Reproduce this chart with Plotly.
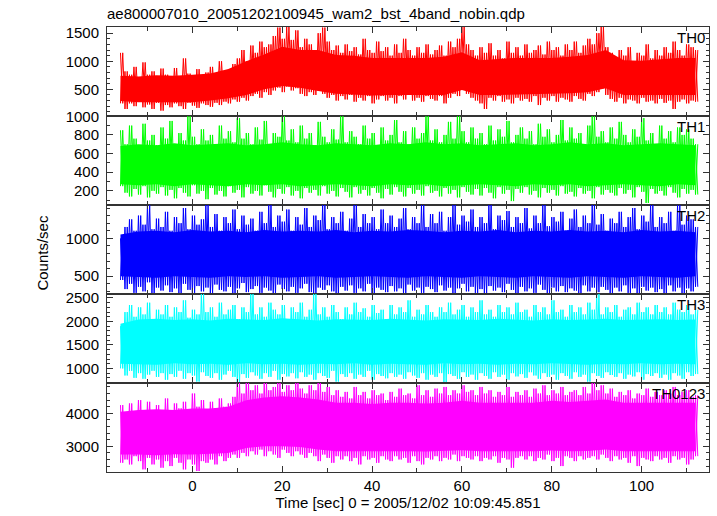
import plotly.graph_objects as go
from plotly.subplots import make_subplots

# time grid of the spike envelopes (1 s) and of the dense core (4 s)
TIME_SEC = list(range(-16, 113))
CORE_TIME = list(range(-16, 113, 4))

TH0_HI = [1150, 820, 760, 900, 700, 980, 760, 820, 690, 870,
          760, 700, 880, 740, 1050, 780, 700, 860, 720, 800,
          900, 740, 1000, 780, 820, 950, 1050, 1200, 1000, 1280,
          1150, 1350, 1250, 1300, 1450, 1600, 1400, 1620, 1380, 1550,
          1250, 1400, 1300, 1200, 1500, 1600, 1350, 1200, 1280, 1150,
          1300, 1180, 1250, 1120, 1400, 1200, 1150, 1350, 1180, 1250,
          1100, 1300, 1150, 1400, 1200, 1100, 1250, 1150, 1300, 1120,
          1200, 1280, 1100, 1350, 1250, 1400, 1620, 1300, 1200, 1100,
          1250, 1150, 1320, 1100, 1200, 1050, 1350, 1150, 1250, 1100,
          1300, 1150, 1200, 1280, 1120, 1350, 1200, 1250, 1100, 1300,
          1200, 1350, 1150, 1280, 1400, 1300, 1500, 1620, 1250, 1150,
          1050, 1200, 1100, 1250, 1000, 1150, 1100, 1300, 1050, 1200,
          1100, 1250, 1150, 1350, 1200, 1100, 1300, 1250, 1200]
TH0_LO = [250, 150, 250, 200, 280, 180, 230, 150, 260, 120,
          220, 180, 250, 200, 150, 260, 210, 170, 250, 220,
          190, 260, 220, 280, 250, 320, 280, 350, 300, 380,
          420, 350, 450, 400, 480, 530, 450, 550, 480, 520,
          420, 380, 450, 400, 480, 420, 350, 400, 300, 380,
          320, 400, 280, 350, 300, 380, 250, 320, 380, 300,
          350, 250, 380, 320, 400, 300, 350, 280, 380, 330,
          300, 380, 250, 350, 420, 380, 500, 420, 350, 300,
          250, 150, 350, 300, 380, 280, 320, 250, 350, 300,
          330, 280, 380, 220, 350, 300, 380, 280, 350, 320,
          280, 380, 330, 300, 420, 380, 450, 520, 400, 330,
          280, 350, 250, 320, 300, 250, 350, 280, 300, 250,
          330, 260, 300, 150, 280, 320, 250, 300, 280]
TH0_CORE_HI = [740, 730, 750, 740, 760, 780, 860, 1000, 1120, 1260, 1200,
               1200, 1110, 1100, 1060, 1060, 1060, 1060, 1080, 1160, 1020,
               1040, 1060, 1060, 1060, 1080, 1110, 1200, 1020, 1010, 1040, 1060, 1060]
TH0_CORE_LO = [290, 270, 270, 270, 270, 300, 340, 400, 500, 560, 530,
               470, 420, 400, 390, 400, 410, 400, 400, 490, 400,
               400, 410, 420, 420, 430, 450, 520, 400, 390, 400, 400, 400]

TH1_HI = [850, 700, 900, 760, 680, 920, 740, 800, 690, 880,
          760, 950, 700, 820, 740, 1000, 780, 700, 860, 740,
          800, 690, 900, 760, 840, 720, 980, 760, 820, 700,
          880, 750, 950, 700, 820, 780, 1000, 740, 860, 720,
          900, 760, 820, 690, 940, 780, 720, 860, 750, 1000,
          720, 840, 780, 700, 900, 760, 820, 680, 880, 740,
          800, 960, 720, 840, 700, 880, 760, 820, 1000, 740,
          860, 720, 800, 940, 760, 1000, 840, 720, 880, 760,
          820, 700, 900, 740, 860, 780, 950, 720, 800, 880,
          760, 840, 700, 920, 780, 860, 720, 800, 960, 740,
          880, 760, 820, 700, 900, 1000, 780, 840, 720, 880,
          760, 940, 800, 720, 860, 780, 980, 740, 820, 700,
          900, 760, 840, 720, 880, 800, 860, 760, 700]
TH1_LO = [250, 180, 140, 220, 160, 250, 130, 200, 170, 240,
          150, 210, 120, 230, 180, 140, 260, 170, 200, 110,
          230, 160, 200, 140, 250, 180, 210, 130, 240, 170,
          200, 150, 260, 190, 130, 220, 170, 240, 150, 200,
          120, 230, 180, 210, 150, 250, 170, 200, 140, 230,
          190, 130, 240, 170, 210, 150, 230, 180, 120, 220,
          160, 240, 190, 140, 230, 170, 210, 150, 250, 180,
          200, 140, 230, 170, 210, 130, 240, 190, 160, 220,
          150, 230, 180, 120, 240, 170, 210, 90, 220, 180,
          240, 160, 200, 130, 230, 180, 210, 150, 250, 170,
          190, 140, 230, 170, 200, 120, 240, 160, 210, 180,
          150, 230, 170, 210, 130, 240, 190, 70, 220, 170,
          200, 150, 240, 180, 130, 220, 170, 210, 160]
TH1_CORE_HI = [680, 700, 690, 710, 690, 700, 710, 690, 700, 720, 700,
               690, 710, 700, 690, 710, 700, 720, 700, 710, 690,
               700, 710, 690, 700, 720, 700, 710, 690, 700, 710, 700, 690]
TH1_CORE_LO = [270, 260, 270, 250, 270, 260, 250, 270, 260, 270, 250,
               260, 270, 260, 250, 270, 260, 270, 250, 260, 270,
               260, 250, 270, 260, 270, 250, 260, 270, 260, 250, 270, 260]

TH2_HI = [1000, 1150, 1250, 1100, 1300, 1180, 1440, 1120, 1260, 1150,
          1350, 1100, 1280, 1200, 1400, 1120, 1300, 1180, 1250, 1440,
          1150, 1320, 1100, 1280, 1200, 1380, 1120, 1300, 1180, 1260,
          1100, 1350, 1200, 1440, 1150, 1300, 1220, 1380, 1100, 1280,
          1180, 1400, 1150, 1300, 1240, 1440, 1120, 1280, 1200, 1350,
          1100, 1260, 1440, 1150, 1320, 1200, 1280, 1120, 1380, 1200,
          1300, 1150, 1260, 1400, 1120, 1280, 1200, 1440, 1150, 1320,
          1200, 1350, 1100, 1280, 1440, 1180, 1300, 1220, 1380, 1150,
          1280, 1200, 1440, 1120, 1300, 1240, 1360, 1150, 1280, 1200,
          1400, 1130, 1300, 1200, 1440, 1160, 1280, 1220, 1350, 1100,
          1260, 1380, 1150, 1300, 1200, 1440, 1180, 1320, 1100, 1260,
          1200, 1350, 1150, 1280, 1400, 1120, 1300, 1220, 1440, 1150,
          1280, 1200, 1350, 1100, 1440, 1180, 1300, 1250, 1150]
TH2_LO = [450, 330, 400, 280, 360, 300, 420, 265, 350, 310,
          380, 290, 340, 265, 400, 320, 280, 370, 300, 350,
          270, 390, 320, 300, 360, 265, 340, 410, 290, 330,
          370, 280, 350, 310, 265, 390, 330, 300, 360, 280,
          340, 400, 290, 265, 350, 320, 380, 300, 265, 360,
          310, 380, 280, 340, 300, 400, 265, 350, 320, 290,
          370, 300, 340, 265, 390, 310, 350, 280, 360, 330,
          290, 380, 310, 350, 265, 340, 400, 300, 360, 280,
          330, 265, 370, 310, 350, 290, 400, 320, 265, 360,
          300, 340, 280, 390, 320, 265, 350, 300, 370, 290,
          340, 310, 265, 380, 300, 350, 290, 360, 320, 265,
          350, 300, 380, 280, 340, 265, 360, 310, 350, 290,
          330, 270, 380, 300, 350, 265, 340, 300, 360]
TH2_CORE_HI = [1050, 1090, 1100, 1080, 1110, 1090, 1100, 1080, 1110, 1090, 1100,
               1090, 1110, 1080, 1100, 1090, 1110, 1100, 1080, 1100, 1090,
               1110, 1080, 1100, 1090, 1110, 1090, 1100, 1080, 1110, 1090, 1100, 1080]
TH2_CORE_LO = [500, 490, 480, 500, 490, 480, 500, 490, 500, 480, 490,
               500, 480, 490, 500, 490, 480, 500, 490, 480, 500,
               490, 480, 500, 490, 480, 500, 490, 480, 500, 490, 480, 500]

TH3_HI = [1900, 2200, 2350, 2100, 2300, 2150, 2400, 2050, 2250, 2150,
          2350, 2100, 2300, 2200, 2450, 2080, 2250, 2150, 2585, 2200,
          2300, 2100, 2400, 2150, 2250, 2350, 2050, 2300, 2200, 2585,
          2150, 2300, 2100, 2400, 2250, 2150, 2350, 2050, 2300, 2200,
          2400, 2100, 2250, 2585, 2150, 2300, 2100, 2350, 2200, 2050,
          2300, 2150, 2400, 2200, 2280, 2100, 2350, 2180, 2250, 2050,
          2350, 2150, 2300, 2200, 2450, 2100, 2250, 2150, 2350, 2200,
          2100, 2300, 2200, 2400, 2150, 2250, 2350, 2100, 2300, 2200,
          2450, 2150, 2250, 2100, 2350, 2200, 2300, 2150, 2400, 2200,
          2250, 2100, 2350, 2200, 2300, 2150, 2450, 2200, 2250, 2100,
          2350, 2200, 2300, 2150, 2400, 2250, 2585, 2150, 2300, 2200,
          2350, 2100, 2250, 2300, 2150, 2400, 2200, 2300, 2150, 2350,
          2200, 2300, 2150, 2400, 2250, 2200, 2350, 2150, 2250]
TH3_LO = [1000, 850, 950, 800, 900, 780, 870, 950, 820, 900,
          760, 880, 820, 950, 780, 900, 850, 720, 920, 840,
          800, 900, 760, 870, 950, 820, 700, 880, 800, 920,
          850, 780, 900, 820, 950, 760, 880, 830, 900, 790,
          920, 820, 870, 760, 900, 840, 800, 950, 720, 880,
          820, 900, 780, 870, 820, 950, 760, 880, 840, 790,
          900, 820, 870, 780, 920, 850, 800, 900, 760, 870,
          820, 900, 700, 880, 840, 780, 920, 820, 870, 760,
          900, 840, 780, 920, 820, 870, 760, 900, 830, 880,
          800, 920, 850, 780, 900, 820, 870, 760, 900, 840,
          780, 920, 820, 870, 720, 900, 840, 800, 920, 860,
          820, 900, 780, 870, 830, 920, 760, 880, 840, 900,
          800, 870, 760, 900, 850, 780, 920, 840, 880]
TH3_CORE_HI = [1950, 2040, 2060, 2030, 2050, 2020, 2060, 2040, 2030, 2070, 2040,
               2020, 2050, 2040, 2030, 2060, 2040, 2020, 2050, 2040, 2030,
               2060, 2040, 2020, 2050, 2030, 2040, 2060, 2030, 2040, 2050, 2030, 2040]
TH3_CORE_LO = [1100, 1090, 1080, 1110, 1090, 1100, 1080, 1110, 1090, 1100, 1080,
               1100, 1090, 1110, 1080, 1100, 1090, 1080, 1110, 1090, 1100,
               1080, 1100, 1090, 1110, 1090, 1080, 1100, 1090, 1110, 1090, 1100, 1090]

TH0123_HI = [4250, 3900, 4300, 4050, 4400, 4100, 4350, 3950, 4250, 4100,
             4450, 4000, 4300, 4150, 4350, 4050, 4600, 4200, 4400, 4100,
             4350, 4150, 4450, 4200, 4300, 4500, 4920, 4600, 4920, 4700,
             4850, 4600, 4920, 4700, 4800, 4920, 4650, 4850, 4700, 4920,
             4750, 4600, 4850, 4700, 4920, 4650, 4800, 4550, 4700, 4500,
             4650, 4450, 4800, 4550, 4650, 4450, 4700, 4550, 4600, 4400,
             4650, 4500, 4750, 4550, 4600, 4450, 4850, 4550, 4700, 4500,
             4750, 4600, 4800, 4550, 4700, 4600, 4850, 4650, 4700, 4550,
             4800, 4600, 4700, 4500, 4650, 4550, 4800, 4500, 4650, 4550,
             4700, 4500, 4750, 4600, 4850, 4550, 4700, 4600, 4800, 4550,
             4650, 4700, 4550, 4800, 4600, 4920, 4700, 4850, 4600, 4750,
             4500, 4650, 4550, 4700, 4450, 4600, 4550, 4750, 4500, 4650,
             4550, 4700, 4600, 4800, 4550, 4650, 4700, 4500, 4550]
TH0123_LO = [2500, 2600, 2450, 2700, 2550, 2300, 2650, 2450, 2600, 2350,
             2550, 2400, 2650, 2500, 2300, 2600, 2450, 2250, 2550, 2500,
             2600, 2450, 2700, 2550, 2650, 2750, 2650, 2800, 2700, 2850,
             2750, 2900, 2700, 2850, 2750, 2650, 2900, 2800, 2700, 2850,
             2750, 2650, 2800, 2700, 2550, 2750, 2650, 2500, 2700, 2600,
             2700, 2550, 2650, 2450, 2700, 2600, 2650, 2500, 2700, 2600,
             2550, 2700, 2600, 2650, 2500, 2700, 2550, 2450, 2650, 2600,
             2700, 2550, 2650, 2600, 2750, 2550, 2700, 2650, 2600, 2700,
             2550, 2650, 2600, 2700, 2500, 2650, 2600, 2350, 2650, 2700,
             2600, 2700, 2550, 2650, 2600, 2750, 2550, 2650, 2400, 2700,
             2650, 2550, 2700, 2600, 2650, 2700, 2600, 2750, 2650, 2550,
             2700, 2600, 2650, 2500, 2700, 2400, 2650, 2600, 2550, 2700,
             2600, 2650, 2500, 2700, 2600, 2650, 2450, 2600, 2700]
TH0123_CORE_HI = [4050, 4100, 4120, 4100, 4150, 4150, 4200, 4400, 4480, 4520, 4480,
                  4420, 4320, 4320, 4280, 4320, 4320, 4300, 4320, 4380, 4320,
                  4320, 4340, 4320, 4380, 4340, 4380, 4420, 4320, 4320, 4340, 4320, 4320]
TH0123_CORE_LO = [2750, 2750, 2730, 2760, 2750, 2770, 2800, 2950, 3000, 3000, 2980,
                  2900, 2850, 2850, 2830, 2850, 2850, 2840, 2850, 2880, 2850,
                  2840, 2850, 2850, 2870, 2850, 2860, 2900, 2850, 2840, 2850, 2850, 2850]

BANDS = ["TH0", "TH1", "TH2", "TH3", "TH0123"]
COLORS = ["#ff0000", "#00ff00", "#0000ff", "#00ffff", "#ff00ff"]
Y_RANGES = [[25, 1610], [48, 1003], [265, 1440], [690, 2585], [2220, 4920]]
Y_DTICK = [500, 200, 500, 500, 1000]
Y_MINOR = [100, 100, 100, 100, 200]
X_RANGE = [-19, 115]

SERIES = [(TH0_HI, TH0_LO, TH0_CORE_HI, TH0_CORE_LO),
          (TH1_HI, TH1_LO, TH1_CORE_HI, TH1_CORE_LO),
          (TH2_HI, TH2_LO, TH2_CORE_HI, TH2_CORE_LO),
          (TH3_HI, TH3_LO, TH3_CORE_HI, TH3_CORE_LO),
          (TH0123_HI, TH0123_LO, TH0123_CORE_HI, TH0123_CORE_LO)]

FONT = "Liberation Sans, Arial, Helvetica, sans-serif"

fig = make_subplots(rows=5, cols=1, shared_xaxes=True, vertical_spacing=0)

for i, (hi, lo, chi, clo) in enumerate(SERIES):
    # dense core of the light curve
    cx = list(CORE_TIME) + list(reversed(CORE_TIME))
    cy = list(chi) + list(reversed(clo))
    fig.add_trace(go.Scatter(x=cx, y=cy, mode="lines", fill="toself",
                             fillcolor=COLORS[i],
                             line=dict(color=COLORS[i], width=0),
                             showlegend=False, hoverinfo="skip"),
                  row=i + 1, col=1)
    # spikes: bin-to-bin swings between the extreme values
    xs, ys = [], []
    for t, h, l in zip(TIME_SEC, hi, lo):
        xs += [t, t + 0.5]
        ys += [h, l]
    xs.append(None); ys.append(None)
    for t, h, l in zip(TIME_SEC, hi, lo):
        xs += [t, t + 0.5]
        ys += [l, h]
    fig.add_trace(go.Scatter(x=xs, y=ys, mode="lines",
                             line=dict(color=COLORS[i], width=1),
                             showlegend=False, hoverinfo="skip"),
                  row=i + 1, col=1)

for i in range(5):
    fig.update_yaxes(range=Y_RANGES[i], dtick=Y_DTICK[i], tick0=0,
                     ticks="inside", ticklen=6, tickcolor="#333",
                     minor=dict(dtick=Y_MINOR[i], tick0=0, ticks="inside",
                                ticklen=3, tickcolor="#333"),
                     showline=True, linecolor="#333", linewidth=1,
                     mirror="allticks", showgrid=False, zeroline=False,
                     tickfont=dict(family=FONT, size=15, color="black"),
                     ticklabelstandoff=4,
                     row=i + 1, col=1)
    fig.update_xaxes(range=X_RANGE, dtick=20, tick0=0,
                     ticks="inside", ticklen=6, tickcolor="#333",
                     minor=dict(dtick=10, tick0=0, ticks="inside",
                                ticklen=4, tickcolor="#333"),
                     showline=True, linecolor="#333", linewidth=1,
                     mirror="allticks", showgrid=False, zeroline=False,
                     tickfont=dict(family=FONT, size=15, color="black"),
                     row=i + 1, col=1)

fig.update_xaxes(title=dict(text="Time [sec] 0 = 2005/12/02 10:09:45.851",
                            font=dict(family=FONT, size=15, color="black"),
                            standoff=4),
                 row=5, col=1)

# panel labels
label_y = [38, 128, 218, 308, 398]
for i, name in enumerate(BANDS):
    fig.add_annotation(text=name, xref="paper", yref="paper",
                       x=(708 - 107) / 603, y=(477 - label_y[i]) / 450,
                       xanchor="right", yanchor="middle", showarrow=False,
                       font=dict(family=FONT, size=15, color="black"))

fig.add_annotation(text="Counts/sec", xref="paper", yref="paper",
                   x=(42 - 107) / 603, y=(477 - 255) / 450, textangle=-90,
                   xanchor="center", yanchor="middle", showarrow=False,
                   font=dict(family=FONT, size=15, color="black"))

fig.update_layout(
    width=717, height=516,
    margin=dict(l=107, r=7, t=27, b=39),
    paper_bgcolor="white", plot_bgcolor="white",
    title=dict(text="ae800007010_20051202100945_wam2_bst_4band_nobin.qdp",
               x=107 / 717, xanchor="left", y=1 - 14 / 516, yanchor="middle",
               font=dict(family=FONT, size=15, color="black")),
)

fig.write_html("out.html", config={"displayModeBar": False},
               post_script="document.body.style.margin='0';"
                           "document.body.style.overflow='hidden';")
